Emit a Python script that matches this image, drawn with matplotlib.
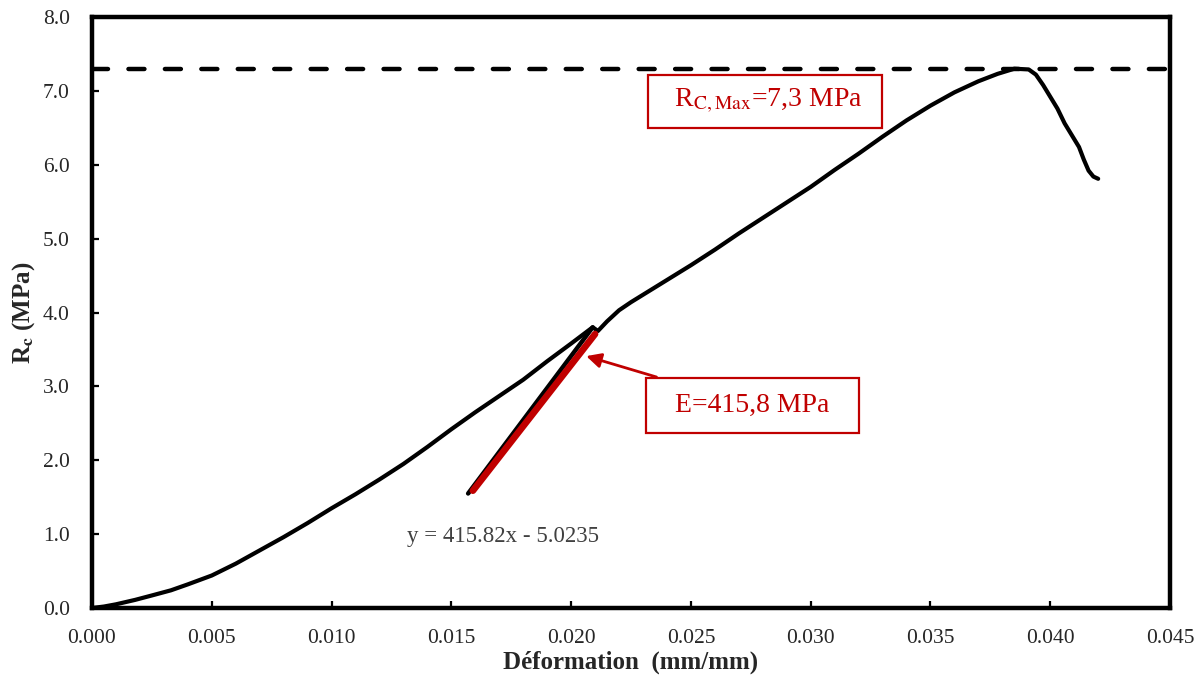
import matplotlib
matplotlib.use('Agg')
import matplotlib.pyplot as plt
import numpy as np

plt.rcParams['font.family'] = 'Liberation Serif'
plt.rcParams['mathtext.fontset'] = 'stix'

# main stress-strain curve
strain = [0, 0.0005, 0.0010, 0.0018, 0.0025, 0.0033, 0.0040, 0.0050, 0.0060, 0.0070,
          0.0080, 0.0090, 0.0100, 0.0110, 0.0120, 0.0130, 0.0140, 0.0150, 0.0160,
          0.0170, 0.0180, 0.0190, 0.0200, 0.0209, 0.02112, 0.0215, 0.0220, 0.0225,
          0.0230, 0.0240,
          0.0250, 0.0260, 0.0270, 0.0280, 0.0290, 0.0300, 0.0310, 0.0320, 0.0330,
          0.0340, 0.0350, 0.0360, 0.0370, 0.0378, 0.0385, 0.0391, 0.0394, 0.0397,
          0.0400, 0.0403, 0.0406, 0.0409, 0.0412, 0.0414, 0.0416, 0.0418, 0.0420]
stress = [0, 0.02, 0.05, 0.11, 0.17, 0.24, 0.32, 0.44, 0.60, 0.78,
          0.96, 1.15, 1.35, 1.54, 1.74, 1.95, 2.18, 2.42, 2.65,
          2.87, 3.09, 3.34, 3.58, 3.80, 3.75, 3.88, 4.03, 4.14,
          4.24, 4.44,
          4.64, 4.85, 5.07, 5.28, 5.49, 5.70, 5.93, 6.15, 6.38,
          6.60, 6.80, 6.98, 7.13, 7.23, 7.30, 7.29, 7.22, 7.08,
          6.92, 6.76, 6.56, 6.40, 6.24, 6.07, 5.92, 5.84, 5.81]

# linear part used for the modulus
lin_strain = [0.0157, 0.0209]
lin_stress = [1.55, 3.80]
slope = 415.82
intercept = -5.0235
fit_x = np.array([0.0159, 0.0210])

rc_max = 7.3

red = '#C00000'
txt = '#262626'

fig = plt.figure(figsize=(12.04, 6.77), dpi=100)
ax = fig.add_axes([0.0764, 0.1019, 0.8954, 0.873])

ax.axhline(rc_max, color='black', lw=3.2, ls=(0, (3.6, 4.6)), dash_capstyle='round', zorder=2)
ax.plot(strain, stress, color='black', lw=3, solid_capstyle='round', solid_joinstyle='round', zorder=3)
ax.plot(lin_strain, lin_stress, color='black', lw=3.2, solid_capstyle='round', zorder=3)
ax.plot(fit_x, slope * fit_x + intercept, color=red, lw=4.8, solid_capstyle='round', zorder=4)

ax.text(0.02811, 6.86, '  R$_{\\mathrm{C,Max}}$=7,3 MPa  ', color=red, fontsize=20,
        ha='center', va='center',
        bbox=dict(boxstyle='square,pad=0.45', fc='white', ec=red, lw=1.6), zorder=5)
ax.annotate('  E=415,8 MPa  ', xy=(0.02063, 3.41), xytext=(0.02757, 2.74),
            color=red, fontsize=20, ha='center', va='center',
            bbox=dict(boxstyle='square,pad=0.55', fc='white', ec=red, lw=1.6),
            arrowprops=dict(arrowstyle='-|>', color=red, lw=2, mutation_scale=22,
                            shrinkA=0, shrinkB=0), zorder=5)
ax.text(0.01717, 0.97, 'y = 415.82x - 5.0235', color='#404040', fontsize=16.5,
        ha='center', va='center')

ax.set_xlim(0, 0.045)
ax.set_ylim(0, 8)
ax.set_xticks(np.arange(0, 0.0451, 0.005))
ax.set_yticks(np.arange(0, 8.01, 1))
ax.xaxis.set_major_formatter(matplotlib.ticker.FormatStrFormatter('%.3f'))
ax.yaxis.set_major_formatter(matplotlib.ticker.FormatStrFormatter('%.1f'))
ax.tick_params(direction='in', length=5, width=1.6, labelsize=15.5, labelcolor=txt)
ax.tick_params(axis='x', pad=15)
ax.tick_params(axis='y', pad=16)
for s in ax.spines.values():
    s.set_linewidth(3.2)

ax.set_xlabel('Déformation  (mm/mm)', fontsize=18, fontweight='bold', color=txt, labelpad=2)
ax.set_ylabel(r'R$_{\mathbf{c}}$ (MPa)', fontsize=18, fontweight='bold', color=txt, labelpad=4)

fig.savefig('out.png', dpi=100)
